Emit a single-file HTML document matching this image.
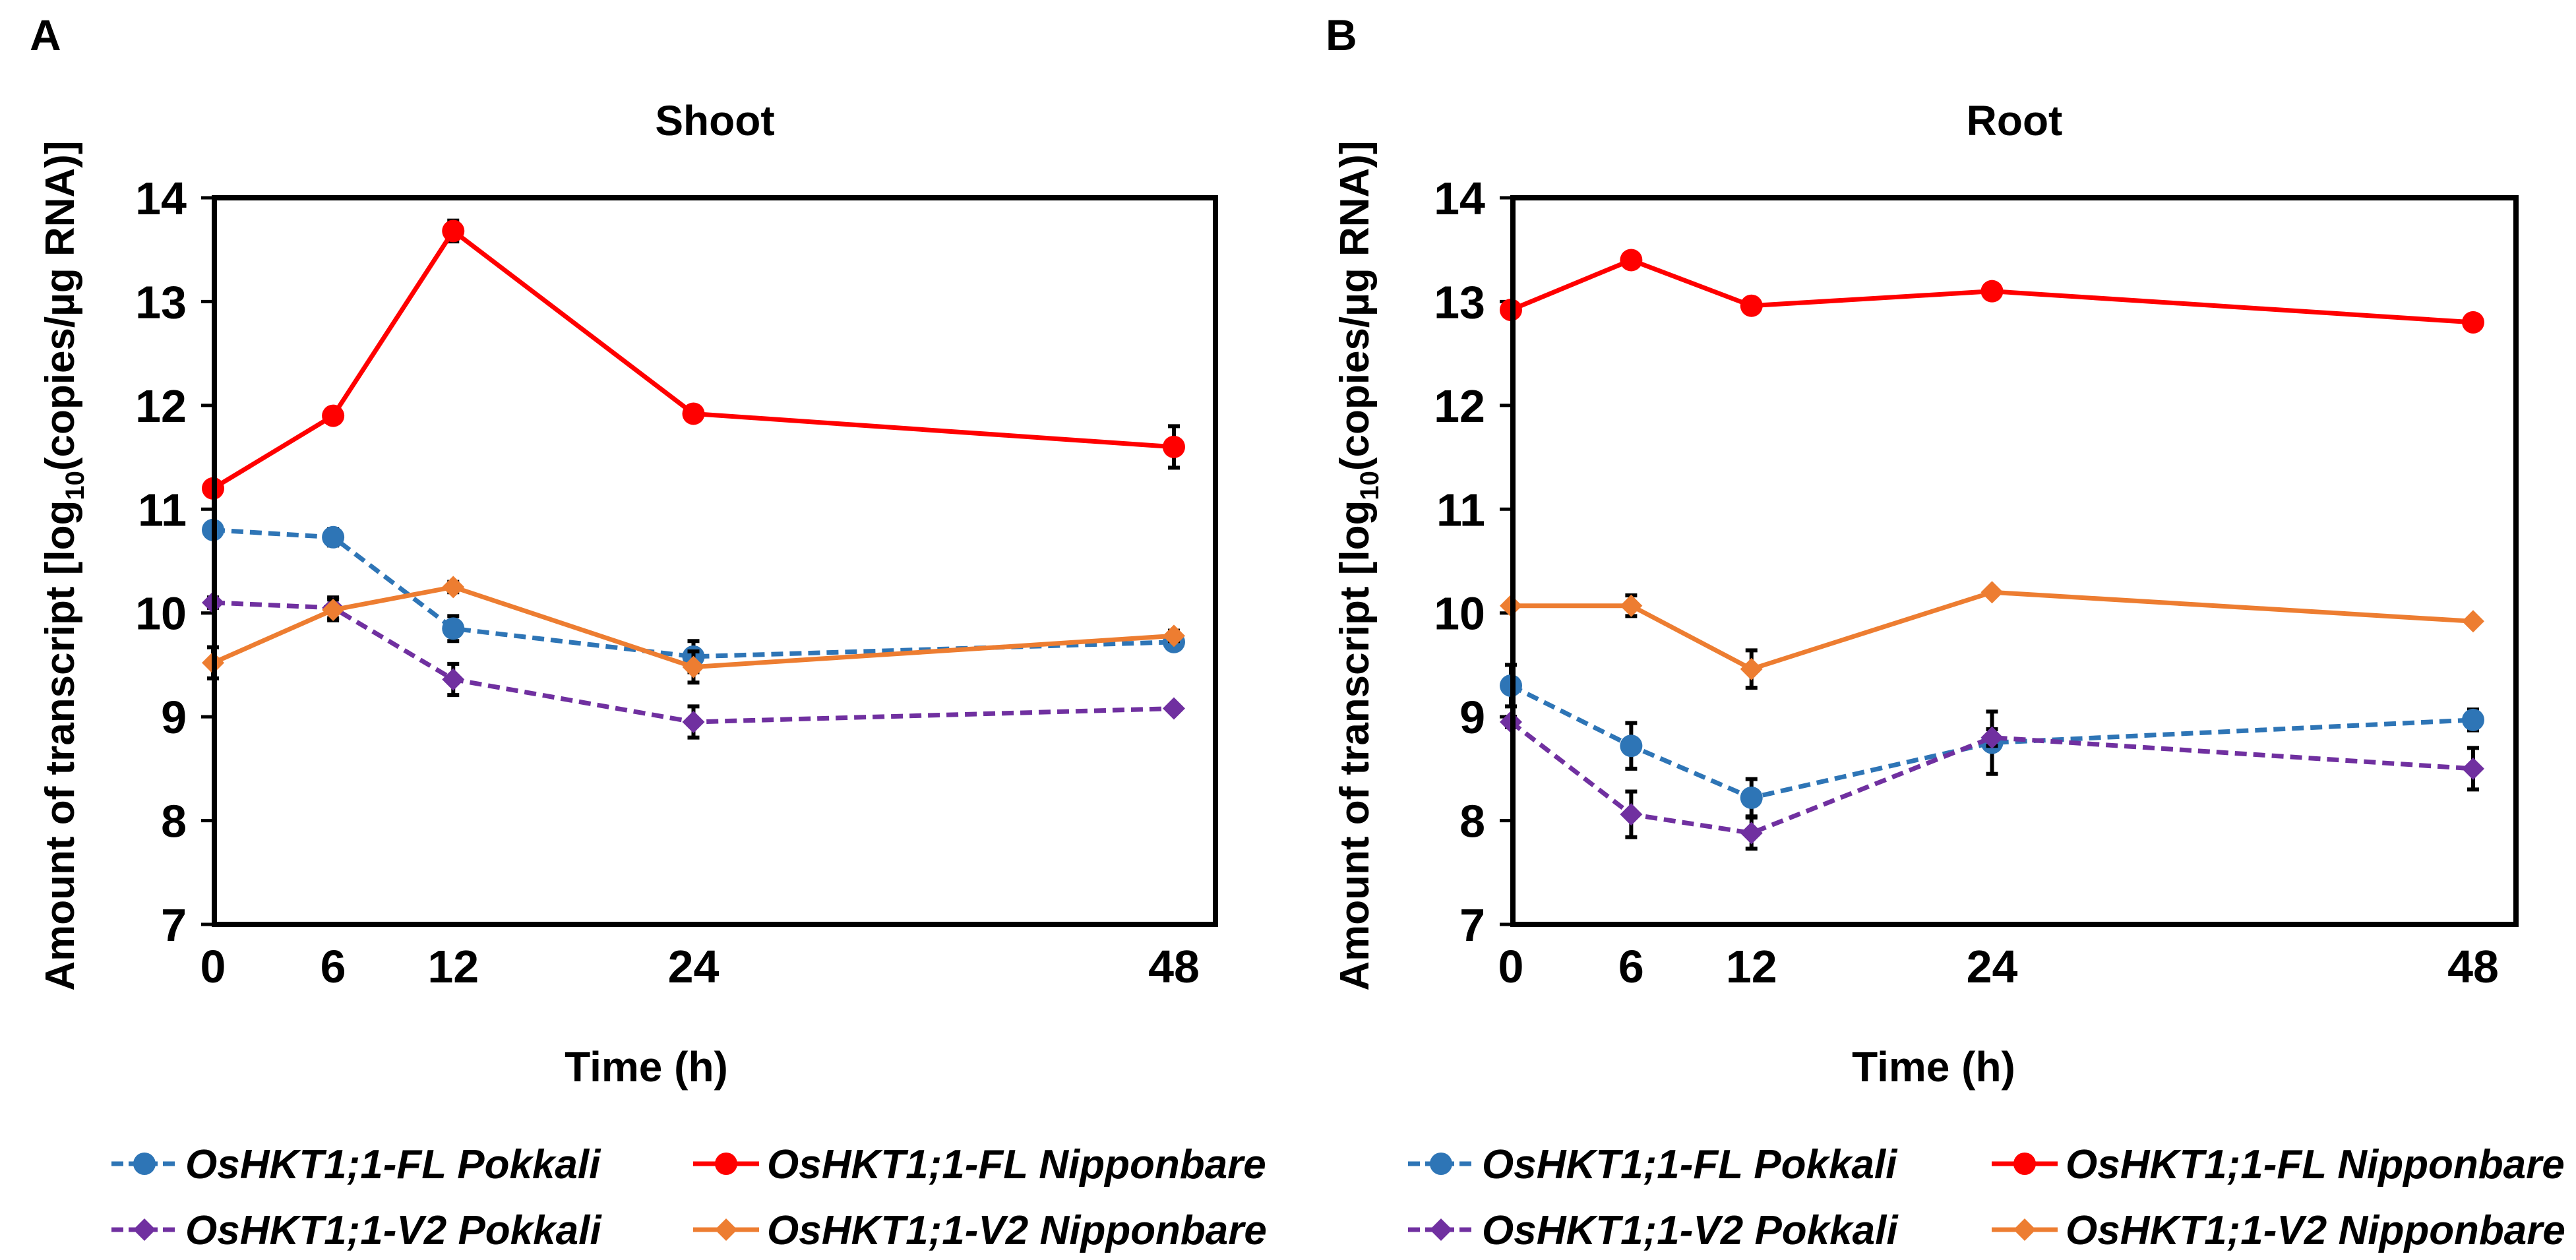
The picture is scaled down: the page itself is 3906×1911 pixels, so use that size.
<!DOCTYPE html>
<html><head><meta charset="utf-8"><style>
html,body{margin:0;padding:0;background:#fff}
svg{display:block;font-family:"Liberation Sans",Arial,sans-serif}
</style></head><body>
<svg id="fig" width="3906" height="1911" viewBox="0 0 3906 1911" xmlns="http://www.w3.org/2000/svg"></svg>
<script>
const times = [0, 6, 12, 24, 48];
const yTicks = [7, 8, 9, 10, 11, 12, 13, 14];
const xTicks = [0, 6, 12, 24, 48];
const seriesNames = ["OsHKT1;1-FL Pokkali", "OsHKT1;1-FL Nipponbare", "OsHKT1;1-V2 Pokkali", "OsHKT1;1-V2 Nipponbare"];
const shootFLPok = [10.8, 10.73, 9.85, 9.58, 9.72];
const shootFLPokErr = [0.05, 0.08, 0.12, 0.15, 0.05];
const shootFLNip = [11.2, 11.9, 13.68, 11.92, 11.6];
const shootFLNipErr = [0.03, 0.05, 0.1, 0.05, 0.2];
const shootV2Pok = [10.1, 10.05, 9.36, 8.95, 9.08];
const shootV2PokErr = [0.05, 0.1, 0.15, 0.15, 0.03];
const shootV2Nip = [9.52, 10.03, 10.25, 9.48, 9.78];
const shootV2NipErr = [0.15, 0.1, 0.05, 0.15, 0.05];
const rootFLPok = [9.3, 8.72, 8.22, 8.75, 8.97];
const rootFLPokErr = [0.2, 0.22, 0.18, 0.3, 0.1];
const rootFLNip = [12.92, 13.4, 12.96, 13.1, 12.8];
const rootFLNipErr = [0.03, 0.03, 0.03, 0.03, 0.03];
const rootV2Pok = [8.95, 8.06, 7.88, 8.8, 8.5];
const rootV2PokErr = [0.05, 0.22, 0.15, 0.08, 0.2];
const rootV2Nip = [10.07, 10.07, 9.46, 10.2, 9.92];
const rootV2NipErr = [0.03, 0.1, 0.18, 0.03, 0.03];

const NS = "http://www.w3.org/2000/svg";
const svg = document.getElementById("fig");
function mk(tag, attrs, parent, text) {
  const e = document.createElementNS(NS, tag);
  for (const k in attrs) e.setAttribute(k, attrs[k]);
  if (text !== undefined) e.textContent = text;
  (parent || svg).appendChild(e);
  return e;
}
const styles = [
  {color: "#2E75B6", dash: "18,10", marker: "circle"},
  {color: "#FF0000", dash: "", marker: "circle"},
  {color: "#7030A0", dash: "18,10", marker: "diamond"},
  {color: "#ED7D31", dash: "", marker: "diamond"}
];
function marker(g, x, y, st) {
  if (st.marker === "circle") {
    const c = mk("circle", {cx: x, cy: y, r: 17, fill: st.color}, g);
    
    
  } else {
    const s = 17;
    const p = mk("polygon", {points: `${x},${y-s} ${x+s},${y} ${x},${y+s} ${x-s},${y}`, fill: st.color}, g);
    
    
  }
}
function panel(cfg) {
  const g = mk("g", {});
  
  
  const xs = v => cfg.x0 + (v / 48) * (cfg.x48 - cfg.x0);
  const ys = v => cfg.bottom - (v - 7) / 7 * (cfg.bottom - cfg.top);
  const lbl = mk("text", {x: cfg.letterX, y: 76, "font-size": 66, "font-weight": "bold"}, g, cfg.letter);
  
  
  const t = mk("text", {x: (cfg.left + cfg.right) / 2, y: 205, "font-size": 64, "font-weight": "bold", "text-anchor": "middle"}, g, cfg.title);
  
  
  yTicks.forEach(v => {
    const tk = mk("text", {x: cfg.left - 42, y: ys(v) + 25, "font-size": 70, "font-weight": "bold", "text-anchor": "end"}, g, String(v));
    
    
    mk("line", {x1: cfg.left - 20, x2: cfg.left, y1: ys(v), y2: ys(v), stroke: "#000", "stroke-width": 5}, g);
  });
  xTicks.forEach(v => {
    const tk = mk("text", {x: xs(v), y: 1490, "font-size": 70, "font-weight": "bold", "text-anchor": "middle"}, g, String(v));
    
    
  });
  const xt = mk("text", {x: cfg.xTitleX, y: 1640, "font-size": 64, "font-weight": "bold", "text-anchor": "middle"}, g, "Time (h)");
  
  
  const yt = mk("text", {transform: `translate(${cfg.yTitleX},858) rotate(-90)`, "font-size": 62, "font-weight": "bold", "text-anchor": "middle"}, g);
  
  
  mk("tspan", {}, yt, "Amount of transcript [log");
  mk("tspan", {"font-size": 40, dy: 15}, yt, "10");
  mk("tspan", {dy: -15}, yt, "(copies/µg RNA)]");
  const data = cfg.series;
  data.forEach((d, i) => {
    const st = styles[i];
    const sg = mk("g", {}, g);
    
    
    d.err.forEach((e, j) => {
      const x = xs(times[j]);
      mk("line", {x1: x, x2: x, y1: ys(d.v[j] - e), y2: ys(d.v[j] + e), stroke: "#000", "stroke-width": 6}, sg);
      mk("line", {x1: x - 9, x2: x + 9, y1: ys(d.v[j] - e), y2: ys(d.v[j] - e), stroke: "#000", "stroke-width": 6}, sg);
      mk("line", {x1: x - 9, x2: x + 9, y1: ys(d.v[j] + e), y2: ys(d.v[j] + e), stroke: "#000", "stroke-width": 6}, sg);
    });
    const pts = d.v.map((v, j) => xs(times[j]) + "," + ys(v)).join(" ");
    const pl = mk("polyline", {points: pts, fill: "none", stroke: st.color, "stroke-width": 7, "stroke-dasharray": st.dash}, sg);
    
    
    d.v.forEach((v, j) => marker(sg, xs(times[j]), ys(v), st));
  });
  const fr = mk("rect", {x: cfg.left, y: cfg.top, width: cfg.right - cfg.left, height: cfg.bottom - cfg.top, fill: "none", stroke: "#000", "stroke-width": 8}, g);
  
  
  const lg = mk("g", {}, g);
  
  
  const cols = [cfg.legX1, cfg.legX2];
  const rows = [1765, 1865];
  [[0, 0, 0], [1, 1, 0], [2, 0, 1], [3, 1, 1]].forEach(([i, c, r]) => {
    const st = styles[i];
    const lx = cols[c], ly = rows[r];
    const e = mk("g", {}, lg);
    
    
    mk("line", {x1: lx, x2: lx + 100, y1: ly, y2: ly, stroke: st.color, "stroke-width": 7, "stroke-dasharray": st.dash ? "18,8" : ""}, e);
    marker(e, lx + 50, ly, st);
    mk("text", {x: lx + 112, y: ly + 22, "font-size": 62, "font-weight": "bold", "font-style": "italic"}, e, seriesNames[i]);
  });
}
panel({name: "shoot-panel", letter: "A", letterX: 45, title: "Shoot", left: 325, right: 1843, top: 300, bottom: 1402, x0: 323, x48: 1780, xTitleX: 980, yTitleX: 112, legX1: 169, legX2: 1051,
  series: [{v: shootFLPok, err: shootFLPokErr}, {v: shootFLNip, err: shootFLNipErr}, {v: shootV2Pok, err: shootV2PokErr}, {v: shootV2Nip, err: shootV2NipErr}]});
panel({name: "root-panel", letter: "B", letterX: 2010, title: "Root", left: 2294, right: 3815, top: 300, bottom: 1402, x0: 2291, x48: 3750, xTitleX: 2932, yTitleX: 2075, legX1: 2135, legX2: 3020,
  series: [{v: rootFLPok, err: rootFLPokErr}, {v: rootFLNip, err: rootFLNipErr}, {v: rootV2Pok, err: rootV2PokErr}, {v: rootV2Nip, err: rootV2NipErr}]});
</script>
</body></html>
